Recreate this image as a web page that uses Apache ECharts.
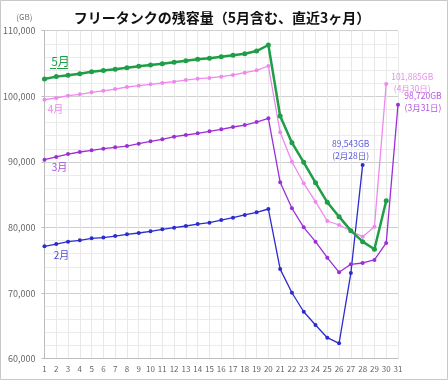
<!DOCTYPE html>
<html><head><meta charset="utf-8">
<script src="https://cdn.jsdelivr.net/npm/echarts@6/dist/echarts.min.js"></script>
<style>html,body{margin:0;padding:0;background:#fff}#c{width:448px;height:380px}</style>
</head><body><div id="c"></div>
<script>
const days = ['1','2','3','4','5','6','7','8','9','10','11','12','13','14','15','16','17','18','19','20','21','22','23','24','25','26','27','28','29','30','31'];
const yTicks = [60000, 70000, 80000, 90000, 100000, 110000];
const may = [102650,103000,103200,103450,103750,103920,104110,104360,104570,104770,104970,105180,105430,105640,105800,106040,106250,106500,106900,107820,97000,92930,89940,86830,83840,81650,79520,77840,76680,84090];
const apr = [99480,99740,100090,100300,100610,100830,101110,101420,101620,101830,102030,102230,102480,102690,102800,102990,103250,103600,103960,104620,94510,90030,86740,83940,80990,80380,79470,78600,80120,101885];
const mar = [90340,90750,91200,91510,91770,92010,92220,92420,92780,93140,93440,93840,94100,94360,94660,94970,95320,95620,96080,96640,86890,82930,80030,77840,75400,73170,74390,74590,75050,77640,98720];
const feb = [77130,77480,77840,78040,78350,78470,78700,78960,79160,79420,79730,79970,80230,80530,80730,81140,81500,81910,82320,82820,73660,70050,67160,65140,63200,62340,73060,89543];
const names = ['5月','4月','3月','2月'];
const endNotes = {apr:['101,885GB','(4月30日)'], mar:['98,720GB','(3月31日)'], feb:['89,543GB','(2月28日)']};

const F = '"Noto Sans CJK JP","Noto Sans",sans-serif';
function build(vals, firstLabel, endLabel){
  return vals.map((v,i)=>{
    if(i===0 && firstLabel) return {value:v, label:firstLabel};
    if(i===vals.length-1 && endLabel) return {value:v, label:endLabel};
    return v;
  });
}
function pos(sym, off){ return [sym/2 + off[0], sym/2 + off[1]]; }
function monthLabel(text,color,off,size,sym){
  return {show:true, formatter:text, position:pos(sym,off), color:color, fontSize:size, fontFamily:F, align:'center', verticalAlign:'middle'};
}
function noteLabel(lines,color,off,sym){
  return {show:true, formatter:lines.join('\n'), position:pos(sym,off), color:color, fontSize:8.5, lineHeight:12, fontFamily:F, align:'center', verticalAlign:'middle'};
}
const chart = echarts.init(document.getElementById('c'), null, {renderer:'canvas'});
function ser(name, vals, color, width, sym, first, end){
  return {name:name, type:'line', data:build(vals, first, end), color:color,
    lineStyle:{width:width, color:color}, itemStyle:{color:color},
    symbol:'circle', symbolSize:sym, showSymbol:true, animation:false, z:2,
    label:{show:false}};
}
chart.setOption({
  animation:false,
  title:{text:'フリータンクの残容量（5月含む、直近3ヶ月）', left:217, textAlign:'center', top:6,
    textStyle:{fontSize:14, fontWeight:'bold', color:'#111', fontFamily:F}},
  graphic:[
    {type:'rect', shape:{x:0.5,y:0.5,width:447,height:379}, style:{fill:'none', stroke:'#c8c8c8', lineWidth:1}, silent:true},
    {type:'line', shape:{x1:50,y1:68.5,x2:69,y2:68.5}, style:{stroke:'#1e9e46', lineWidth:1}, silent:true}
  ],
  grid:{left:43, right:50, top:30.7, bottom:21.3, containLabel:false},
  xAxis:{type:'category', data:days, boundaryGap:false,
    axisLine:{lineStyle:{color:'#bdbdbd'}}, axisTick:{show:false},
    axisLabel:{color:'#666', fontSize:8, fontFamily:F, margin:6, interval:0},
    splitLine:{show:true, interval:0, lineStyle:{color:'#e8e8e8', width:1}}},
  yAxis:{type:'value', min:yTicks[0], max:yTicks[yTicks.length-1], interval:10000,
    name:'(GB)', nameLocation:'end', nameGap:10,
    nameTextStyle:{color:'#777', fontSize:8, fontFamily:F, align:'right', padding:[0,12,0,0]},
    axisLine:{show:true, lineStyle:{color:'#bdbdbd'}}, axisTick:{show:true, length:3, lineStyle:{color:'#bdbdbd'}},
    axisLabel:{color:'#666', fontSize:9, fontFamily:F, margin:9, formatter:v=>v.toLocaleString('en-US')},
    splitLine:{show:true, lineStyle:{color:'#cfcfcf', width:1}},
    minorTick:{show:false, splitNumber:5},
    minorSplitLine:{show:true, lineStyle:{color:'#ebebeb', width:1}}},
  series:[
    ser('2月', feb, '#2b2bd0', 1.3, 4, monthLabel(names[3],'#5050d8',[17,9],10,4), noteLabel(endNotes.feb,'#5a5ad8',[-12,-15],4)),
    ser('3月', mar, '#9b2fd6', 1.3, 4, monthLabel(names[2],'#a64ddc',[15,8],10,4), noteLabel(endNotes.mar,'#b455e0',[25,-3],4)),
    ser('4月', apr, '#ee88ee', 1.3, 4, monthLabel(names[1],'#ee88ee',[11,9],10,4), noteLabel(endNotes.apr,'#ea8eea',[26,-1],4)),
    ser('5月', may, '#1e9e46', 2.5, 5, monthLabel(names[0],'#1e9e46',[16,-17],12,5), null)
  ]
});
</script></body></html>
